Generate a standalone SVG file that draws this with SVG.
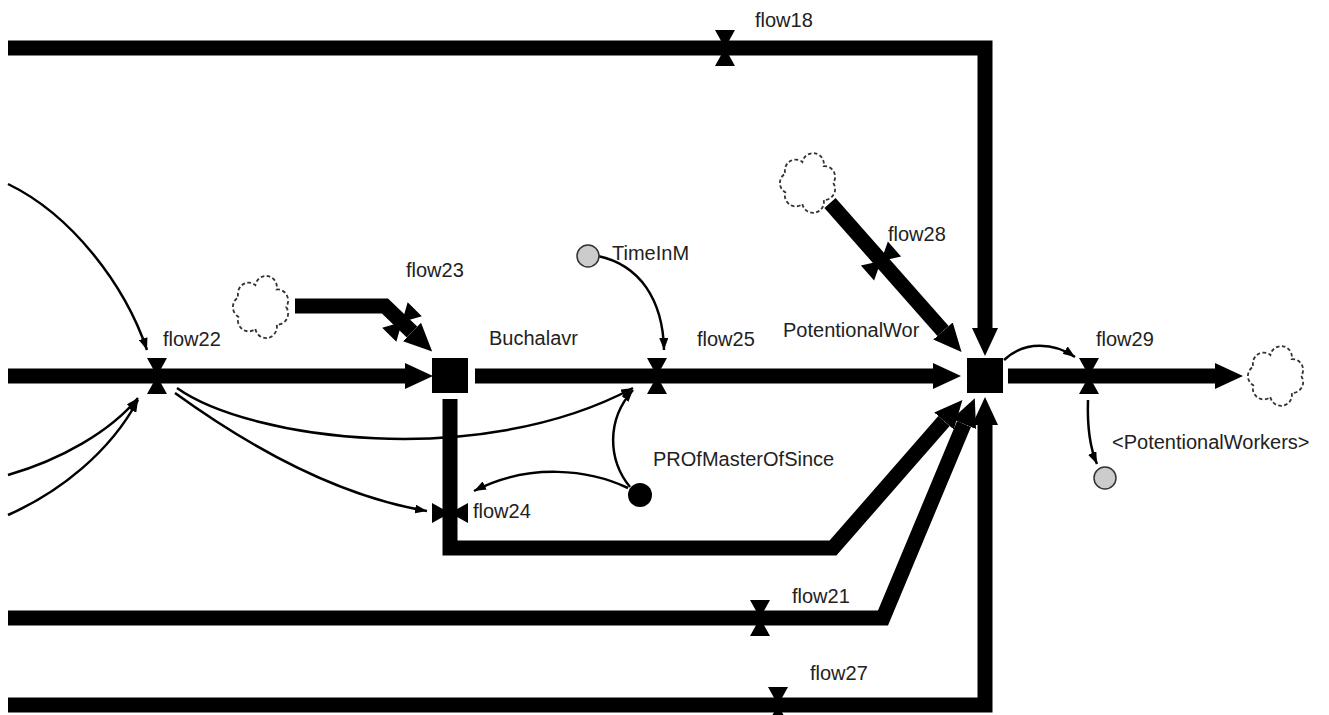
<svg xmlns="http://www.w3.org/2000/svg" width="1329" height="715" viewBox="0 0 1329 715">
<style>
.pipe{fill:none;stroke:#000;stroke-width:15;stroke-linejoin:miter;marker-end:url(#fh)}
.link{fill:none;stroke:#000;stroke-width:2.5;marker-end:url(#lh)}
.lbl{font-family:"Liberation Sans",Arial,sans-serif;font-size:20px;fill:#222}
.stock{fill:#000}
.cloud{fill:#fff;stroke:#333;stroke-width:1.5;stroke-dasharray:3 2}
.aux{fill:#ccc;stroke:#333;stroke-width:1.5}
</style>
<defs>
<marker id="fh" viewBox="0 0 28 28" markerWidth="28" markerHeight="28" markerUnits="userSpaceOnUse" refX="0" refY="14" orient="auto"><path d="M0,1 L28,14 L0,27 Z" fill="#000"/></marker>
<marker id="lh" viewBox="0 0 12 9" markerWidth="12" markerHeight="9" markerUnits="userSpaceOnUse" refX="12" refY="4.5" orient="auto"><path d="M0,0 L12,4.5 L0,9 Z" fill="#000"/></marker>
<polygon id="valve" points="-10,-18 10,-18 0,0 10,18 -10,18 0,0" fill="#000"/>
<path id="cl" d="M21,0 A9,9 0 0 1 13.1,14.1 A9,9 0 0 1 -4.7,17.5 A9,9 0 0 1 -18.9,7.8 A9,9 0 0 1 -18.9,-7.8 A9,9 0 0 1 -4.7,-17.5 A9,9 0 0 1 13.1,-14.1 A9,9 0 0 1 21,0 Z"/>
</defs>
<rect width="1329" height="715" fill="#fff"/>

<g id="connectors">
<path class="pipe" d="M8,48 H985 V328"/>
<path class="pipe" d="M8,376 H405"/>
<path class="pipe" d="M475,376 H933"/>
<path class="pipe" d="M1008,376 H1215"/>
<path class="pipe" d="M295,306 H385 L412,332"/>
<path class="pipe" d="M830,203 L943,331"/>
<path class="pipe" d="M450,399 V548 H833 L944,421"/>
<path class="pipe" d="M8,618 H883 L964,424"/>
<path class="pipe" d="M8,705 H985 V425"/>
<path class="link" d="M8,184 C72,215 125,285 147,350"/>
<path class="link" d="M8,475 C60,460 110,432 138,398"/>
<path class="link" d="M8,515 C60,492 110,452 138,400"/>
<path class="link" d="M177,388 C250,440 480,470 633,388"/>
<path class="link" d="M175,393 C240,440 330,495 427,511"/>
<path class="link" d="M598,256 C640,265 663,300 664,350"/>
<path class="link" d="M630,487 C608,460 606,420 633,390"/>
<path class="link" d="M628,488 C590,470 530,462 474,491"/>
<path class="link" d="M1004,360 C1025,340 1055,343 1075,357"/>
<path class="link" d="M1088,400 C1087,430 1090,448 1097,464"/>
</g>

<g id="flow18"><use href="#valve" x="725" y="48"/><text class="lbl" x="755" y="27">flow18</text></g>
<g id="flow22"><use href="#valve" x="157" y="376"/><text class="lbl" x="163" y="346">flow22</text></g>
<g id="flow25"><use href="#valve" x="657" y="376"/><text class="lbl" x="697" y="346">flow25</text></g>
<g id="flow29"><use href="#valve" x="1089" y="376"/><text class="lbl" x="1096" y="346">flow29</text></g>
<g id="flow21"><use href="#valve" x="760" y="618"/><text class="lbl" x="792" y="603">flow21</text></g>
<g id="flow27"><use href="#valve" x="778" y="705"/><text class="lbl" x="810" y="680">flow27</text></g>
<g id="flow24"><use href="#valve" transform="translate(450,513) rotate(90)"/><text class="lbl" x="473" y="518">flow24</text></g>
<g id="flow23"><use href="#valve" transform="translate(402,322) rotate(45)"/><text class="lbl" x="406" y="277">flow23</text></g>
<g id="flow28"><use href="#valve" transform="translate(881,261) rotate(48.6)"/><text class="lbl" x="888" y="241">flow28</text></g>

<g id="Buchalavr"><rect class="stock" x="432" y="358" width="36" height="35"/><text class="lbl" x="489" y="345">Buchalavr</text></g>
<g id="PotentionalWorkers"><rect class="stock" x="967" y="358" width="36" height="35"/><text class="lbl" x="783" y="337">PotentionalWor</text></g>

<g id="cloud1"><use href="#cl" class="cloud" transform="translate(261,307) scale(1.2,1.25)"/></g>
<g id="cloud2"><use href="#cl" class="cloud" transform="translate(808,183) scale(1.2,1.2)"/></g>
<g id="cloud3"><use href="#cl" class="cloud" transform="translate(1276,376) scale(1.2,1.2)"/></g>

<g id="TimeInM"><circle class="aux" cx="588" cy="256" r="11"/><text class="lbl" x="612" y="260">TimeInM</text></g>
<g id="PROfMasterOfSince"><circle cx="640" cy="495" r="12" fill="#000"/><text class="lbl" x="653" y="466">PROfMasterOfSince</text></g>
<g id="PotentionalWorkersShadow"><circle class="aux" cx="1105" cy="478" r="11"/><text class="lbl" x="1112" y="449">&lt;PotentionalWorkers&gt;</text></g>
</svg>
